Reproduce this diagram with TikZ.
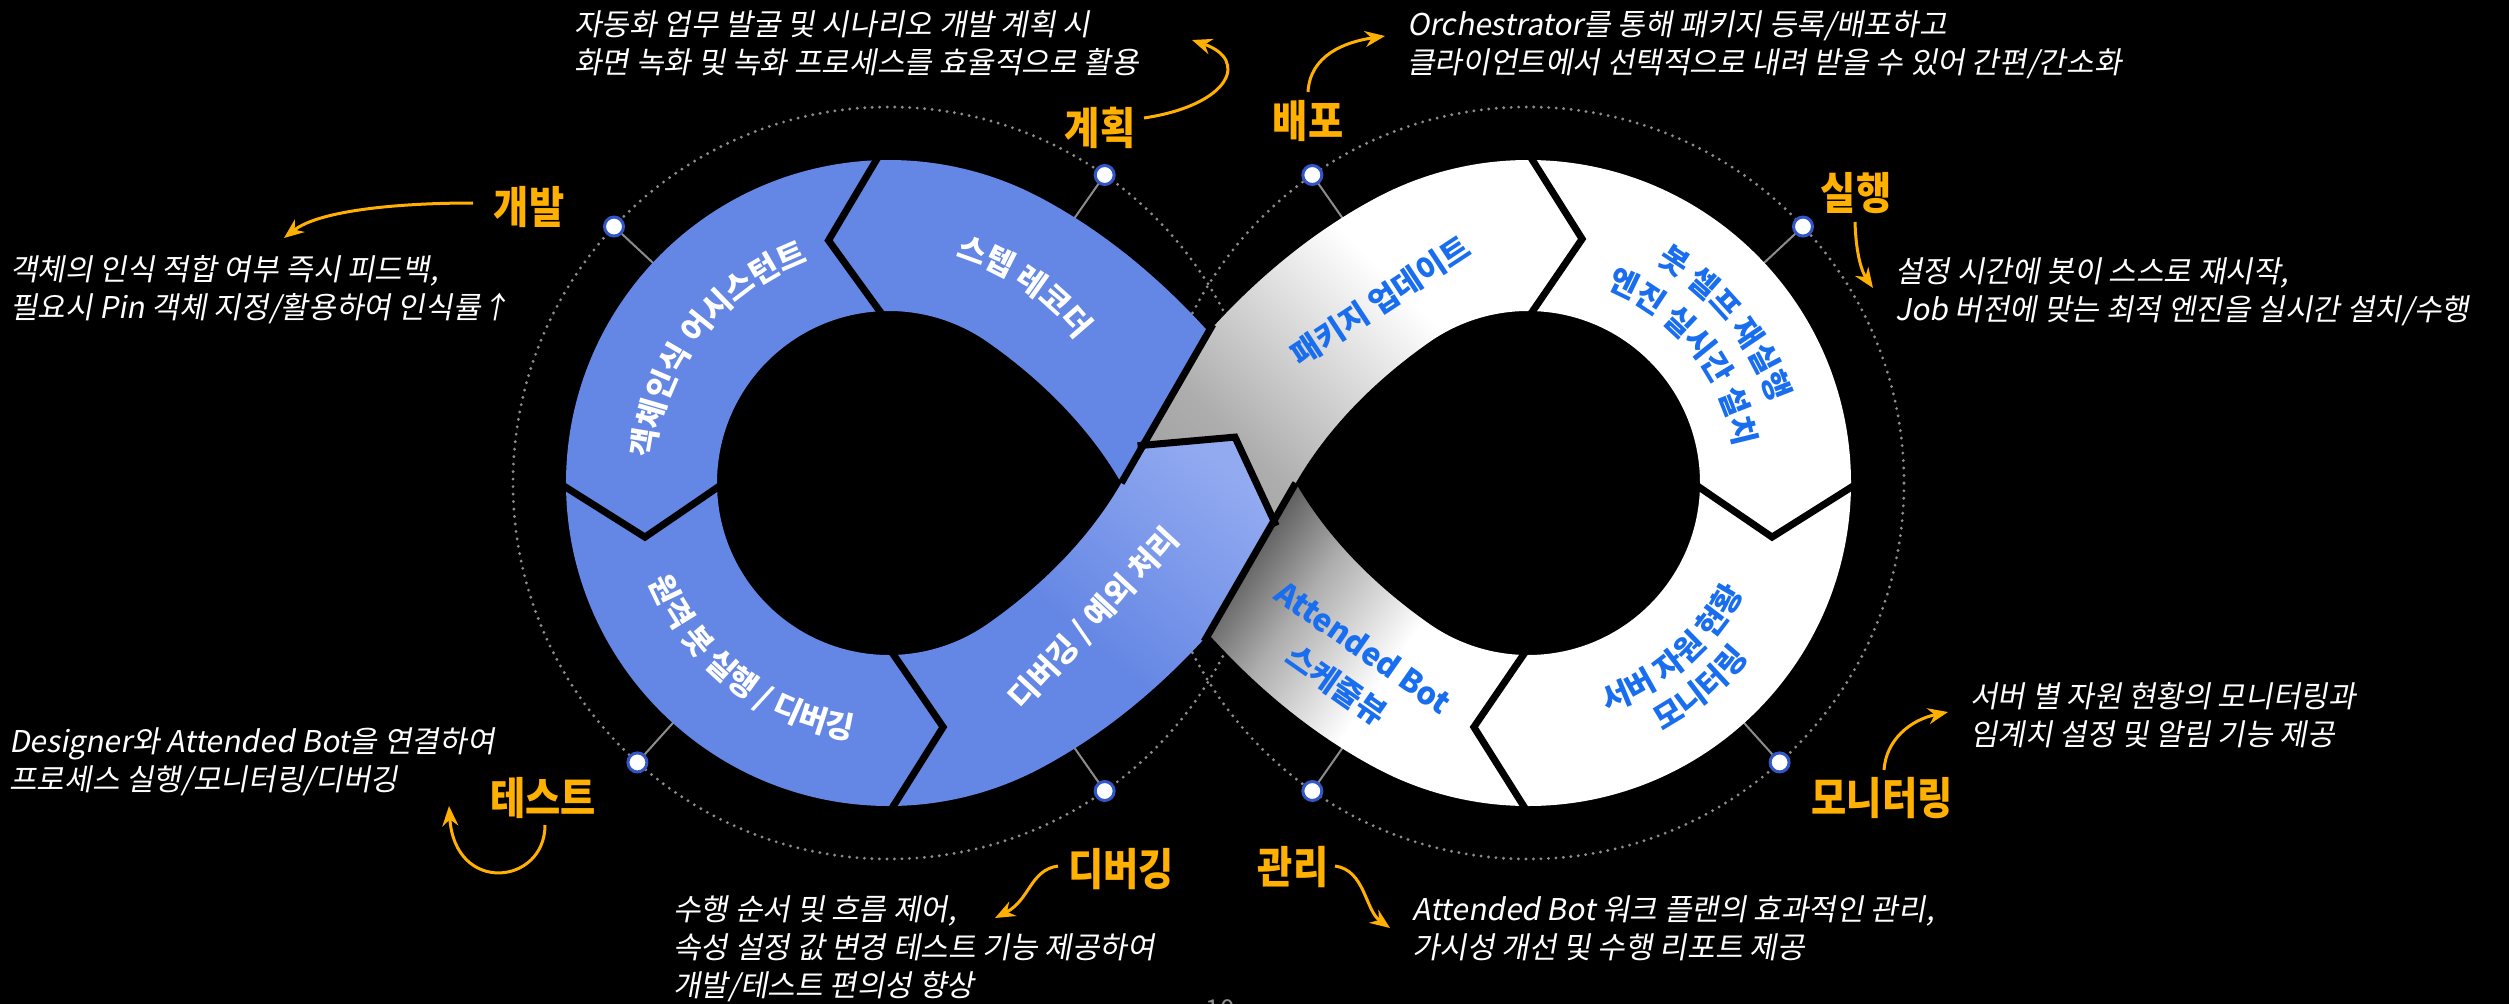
\documentclass[tikz,border=0pt]{standalone}
\usepackage{fontspec}
\usetikzlibrary{calc,decorations.text,arrows.meta}
\newfontfamily\kr{Noto Sans CJK KR}
\newfontfamily\krlab{Noto Sans CJK KR}[FakeStretch=0.87]
\newfontfamily\krit{Noto Sans CJK KR}[FakeSlant=0.18]
\definecolor{bandblue}{RGB}{100,134,228}
\definecolor{bandlight}{RGB}{146,170,240}
\definecolor{txtblue}{RGB}{25,110,240}
\definecolor{lblorange}{RGB}{255,176,0}
\definecolor{dotgray}{RGB}{140,140,140}
\definecolor{mkblue}{RGB}{50,85,200}
\definecolor{pkgA}{gray}{0.55}
\definecolor{pkgB}{gray}{0.68}
\definecolor{attA}{gray}{0.08}
\definecolor{attB}{gray}{0.25}
\definecolor{attC}{gray}{0.68}
\pgfdeclarehorizontalshading{dbgsh}{100bp}{color(0bp)=(bandblue); color(48bp)=(bandblue); color(78bp)=(bandlight); color(100bp)=(bandlight)}
\pgfdeclarehorizontalshading{pkgsh}{100bp}{color(0bp)=(pkgA); color(30bp)=(pkgB); color(58bp)=(white); color(100bp)=(white)}
\pgfdeclarehorizontalshading{attsh}{100bp}{color(0bp)=(attA); color(22bp)=(attB); color(38bp)=(attC); color(55bp)=(white); color(100bp)=(white)}
\begin{document}
\begin{tikzpicture}[x=1pt,y=1pt,
  mkline/.style={draw=dotgray, line width=2pt},
  mkdot/.style={circle, fill=white, draw=mkblue, line width=3pt, minimum size=19pt, inner sep=0pt},
  dotring/.style={draw=dotgray, line width=3.2pt, dash pattern=on 0pt off 7.5pt, line cap=round},
  gapline/.style={draw=black, line width=7pt, line join=miter},
  lbl/.style={text=lblorange, font=\krlab\bfseries\fontsize{44}{44}\selectfont, inner sep=0pt},
  note/.style={text=white, font=\krit\fontsize{30}{38}\selectfont, align=left, anchor=north west, inner sep=0pt},
  arr/.style={draw=lblorange, line width=3pt, -{Stealth[length=20pt, width=16pt]}},
  bandtxt/.style={font=\kr\bfseries\fontsize{31}{46}\selectfont, inner sep=0pt, align=center},
]
\useasboundingbox (0,0) rectangle (2509,-1004);
\fill[black] (0,0) rectangle (2509,-1004);

\coordinate (L) at (889,-483);
\coordinate (R) at (1528,-483);
\coordinate (X) at (1208.5,-483);
\coordinate (T) at (1208.5,-332);
\coordinate (B) at (1208.5,-634);
\coordinate (HL) at (1121.3,-483);
\coordinate (HR) at (1295.7,-483);
\coordinate (EL) at (1143.1,-445.25);
\coordinate (ER) at (1273.9,-520.75);
\coordinate (TX) at (1235,-437.1);

% dotted rings
\draw[dotring] (L) circle[radius=376];
\draw[dotring] (R) circle[radius=376];

% markers
\foreach \a/\n in {55/m1,137/m2,228/m3,305/m4}{
  \draw[mkline] ($(L)+(\a:376)$) -- ($(L)+(\a:318)$);
  \node[mkdot] (\n) at ($(L)+(\a:376)$) {};
}
\foreach \a/\n in {125/m5,43/m6,312/m7,235/m8}{
  \draw[mkline] ($(R)+(\a:376)$) -- ($(R)+(\a:318)$);
  \node[mkdot] (\n) at ($(R)+(\a:376)$) {};
}

% ---- under-crossing pieces
% step recorder
\fill[bandblue] ($(L)+(91.5:323)$) arc[start angle=91.5, end angle=62, radius=323]
  .. controls (1104.2,-231.6) and (1160.3,-278.5) .. (T) -- (X) -- (HL)
  .. controls (1088.8,-426.7) and (1040.9,-379.4) .. ($(L)+(55:172)$)
  arc[start angle=55, end angle=91.5, radius=172] -- ($(L)+(104:250)$) -- cycle;
% attended bot
\shade[shading=attsh, shading angle=-35] ($(R)+(270:323)$) arc[start angle=270, end angle=242, radius=323]
  .. controls (1312.8,-734.4) and (1256.7,-687.5) .. (B) -- (X) -- (HR)
  .. controls (1328.2,-539.3) and (1376.1,-586.6) .. ($(R)+(235:172)$)
  arc[start angle=235, end angle=270, radius=172] -- ($(R)+(257.5:250)$) -- cycle;

% ---- left loop
\fill[bandblue] ($(L)+(91.5:323)$) arc[start angle=91.5, end angle=180, radius=323]
  -- ($(L)+(192.5:250)$) -- ($(L)+(180:172)$) arc[start angle=180, end angle=91.5, radius=172]
  -- ($(L)+(104:250)$) -- cycle;
\fill[bandblue] ($(L)+(180:323)$) arc[start angle=180, end angle=270, radius=323]
  -- ($(L)+(282.5:250)$) -- ($(L)+(270:172)$) arc[start angle=270, end angle=180, radius=172]
  -- ($(L)+(192.5:250)$) -- cycle;
% ---- right loop
\fill[white] ($(R)+(90:323)$) arc[start angle=90, end angle=0, radius=323]
  -- ($(R)+(-12.5:250)$) -- ($(R)+(0:172)$) arc[start angle=0, end angle=90, radius=172]
  -- ($(R)+(77.5:250)$) -- cycle;
\fill[white] ($(R)+(0:323)$) arc[start angle=0, end angle=-90, radius=323]
  -- ($(R)+(-102.5:250)$) -- ($(R)+(-90:172)$) arc[start angle=-90, end angle=0, radius=172]
  -- ($(R)+(-12.5:250)$) -- cycle;

% ---- over-crossing pieces
\shade[shading=dbgsh, shading angle=50] ($(L)+(270:323)$) arc[start angle=270, end angle=298, radius=323]
  .. controls (1104.2,-734.4) and (1160.3,-687.5) .. (B) -- (ER) -- (TX) -- (EL) -- (HL)
  .. controls (1088.8,-539.3) and (1040.9,-586.6) .. ($(L)+(-55:172)$)
  arc[start angle=-55, end angle=-90, radius=172] -- ($(L)+(282.5:250)$) -- cycle;
\shade[shading=pkgsh, shading angle=45] ($(R)+(90:323)$) arc[start angle=90, end angle=118, radius=323]
  .. controls (1312.8,-231.6) and (1256.7,-278.5) .. (T) -- (EL) -- (TX) -- (ER) -- (HR)
  .. controls (1328.2,-426.7) and (1376.1,-379.4) .. ($(R)+(125:172)$)
  arc[start angle=125, end angle=90, radius=172] -- ($(R)+(77.5:250)$) -- cycle;

% ---- gaps
\draw[gapline] ($(L)+(91.5:330)$) -- ($(L)+(104:250)$) -- ($(L)+(91.5:165)$);
\draw[gapline] ($(L)+(180:330)$) -- ($(L)+(192.5:250)$) -- ($(L)+(180:165)$);
\draw[gapline] ($(L)+(270:330)$) -- ($(L)+(282.5:250)$) -- ($(L)+(270:165)$);
\draw[gapline] ($(R)+(90:330)$) -- ($(R)+(77.5:250)$) -- ($(R)+(90:165)$);
\draw[gapline] ($(R)+(0:330)$) -- ($(R)+(-12.5:250)$) -- ($(R)+(0:165)$);
\draw[gapline] ($(R)+(270:330)$) -- ($(R)+(257.5:250)$) -- ($(R)+(270:165)$);
\draw[gapline] ($(TX)!1.06!(EL)$) -- (TX) -- ($(TX)!1.06!(ER)$);
\draw[gapline] (HL) -- ($(HL)!1.05!(T)$);
\draw[gapline] ($(HR)!1.05!(B)$) -- (HR);

% ---- band texts
\path[decorate, decoration={text along path, text align=center, text color=white,
  text={|\kr\bfseries\fontsize{31}{31}\selectfont|스텝 레코더}}]
  ($(L)+(100.5:236)$) arc[start angle=100.5, end angle=10.5, radius=236];
\path[decorate, decoration={text along path, text align=center, text color=white,
  text={|\kr\bfseries\fontsize{31}{31}\selectfont|객체인식 어시스턴트}}]
  ($(L)+(200:236)$) arc[start angle=200, end angle=84, radius=236];
\path[decorate, decoration={text along path, text align=center, text color=white,
  text={|\kr\bfseries\fontsize{31}{31}\selectfont|원격 봇 실행 / 디버깅}}]
  ($(L)+(172:259)$) arc[start angle=172, end angle=292, radius=259];
\path[decorate, decoration={text along path, text align=center, text color=txtblue,
  text={|\kr\bfseries\fontsize{31}{31}\selectfont|봇 셀프 재실행}}]
  ($(R)+(99:255)$) arc[start angle=99, end angle=-21, radius=255];
\path[decorate, decoration={text along path, text align=center, text color=txtblue,
  text={|\kr\bfseries\fontsize{31}{31}\selectfont|엔진 실시간 설치}}]
  ($(R)+(99:210)$) arc[start angle=99, end angle=-21, radius=210];
\path[decorate, decoration={text along path, text align=center, text color=txtblue,
  text={|\kr\bfseries\fontsize{31}{31}\selectfont|서버 자원 현황}}]
  ($(R)+(-109:242)$) arc[start angle=-109, end angle=11, radius=242];
\path[decorate, decoration={text along path, text align=center, text color=txtblue,
  text={|\kr\bfseries\fontsize{31}{31}\selectfont|모니터링}}]
  ($(R)+(-110:282)$) arc[start angle=-110, end angle=10, radius=282];
\node[bandtxt, text=white, rotate=47] (t-dbg) at (1094.5,-619) {디버깅 / 예외 처리};
\node[bandtxt, text=txtblue, rotate=33.3] (t-pkg) at (1380.6,-300.7) {패키지 업데이트};
\node[bandtxt, text=txtblue, rotate=-35] (t-att) at (1349.4,-666.8) {Attended Bot\\스케줄뷰};

% ---- labels
\node[lbl] (l-dev) at (529,-207) {개발};
\node[lbl] (l-plan) at (1100,-128) {계획};
\node[lbl] (l-dep) at (1308,-121) {배포};
\node[lbl] (l-run) at (1856,-193) {실행};
\node[lbl] (l-test) at (543,-798) {테스트};
\node[lbl] (l-mon) at (1882,-798) {모니터링};
\node[lbl] (l-dbg) at (1121,-869) {디버깅};
\node[lbl] (l-mgt) at (1293,-867) {관리};

% ---- notes
\node[note] (n-plan) at (574,-10) {자동화 업무 발굴 및 시나리오 개발 계획 시\\화면 녹화 및 녹화 프로세스를 효율적으로 활용};
\node[note] (n-dep) at (1407,-10) {Orchestrator를 통해 패키지 등록/배포하고\\클라이언트에서 선택적으로 내려 받을 수 있어 간편/간소화};
\node[note] (n-dev) at (10,-255) {객체의 인식 적합 여부 즉시 피드백,\\필요시 Pin 객체 지정/활용하여 인식률↑};
\node[note] (n-run) at (1895,-257) {설정 시간에 봇이 스스로 재시작,\\Job 버전에 맞는 최적 엔진을 실시간 설치/수행};
\node[note] (n-test) at (9,-727) {Designer와 Attended Bot을 연결하여\\프로세스 실행/모니터링/디버깅};
\node[note] (n-mon) at (1970,-682) {서버 별 자원 현황의 모니터링과\\임계치 설정 및 알림 기능 제공};
\node[note] (n-dbg) at (673,-895) {수행 순서 및 흐름 제어,\\속성 설정 값 변경 테스트 기능 제공하여\\개발/테스트 편의성 향상};
\node[note] (n-mgt) at (1412,-895) {Attended Bot 워크 플랜의 효과적인 관리,\\가시성 개선 및 수행 리포트 제공};

% ---- arrows
\coordinate (a1s) at (1144,-118); \coordinate (a1e) at (1192,-40);
\coordinate (a2s) at (1308,-92);  \coordinate (a2e) at (1385,-36);
\coordinate (a3s) at (473,-203);  \coordinate (a3e) at (284,-238);
\coordinate (a4s) at (1855,-222); \coordinate (a4e) at (1873,-288);
\coordinate (a5s) at (545,-825);  \coordinate (a5e) at (449,-806);
\coordinate (a6s) at (1884,-770); \coordinate (a6e) at (1948,-712);
\coordinate (a7s) at (1058,-866); \coordinate (a7e) at (995,-918);
\coordinate (a8s) at (1335,-866); \coordinate (a8e) at (1390,-928);
\draw[arr] (a1s) .. controls (1230,-105) and (1250,-60) .. (a1e);
\draw[arr] (a2s) .. controls (1310,-55) and (1345,-42) .. (a2e);
\draw[arr] (a3s) .. controls (400,-203) and (320,-210) .. (a3e);
\draw[arr] (a4s) .. controls (1856,-255) and (1862,-272) .. (a4e);
\draw[arr] (a5s) .. controls (545,-885) and (455,-895) .. (a5e);
\draw[arr] (a6s) .. controls (1886,-740) and (1910,-720) .. (a6e);
\draw[arr] (a7s) .. controls (1030,-870) and (1030,-900) .. (a7e);
\draw[arr] (a8s) .. controls (1365,-870) and (1365,-910) .. (a8e);

% page number fragment
\node[text=dotgray, font=\kr\fontsize{26}{26}\selectfont, anchor=north, inner sep=0pt] (pg) at (1220,-999) {10};
\end{tikzpicture}
\end{document}
